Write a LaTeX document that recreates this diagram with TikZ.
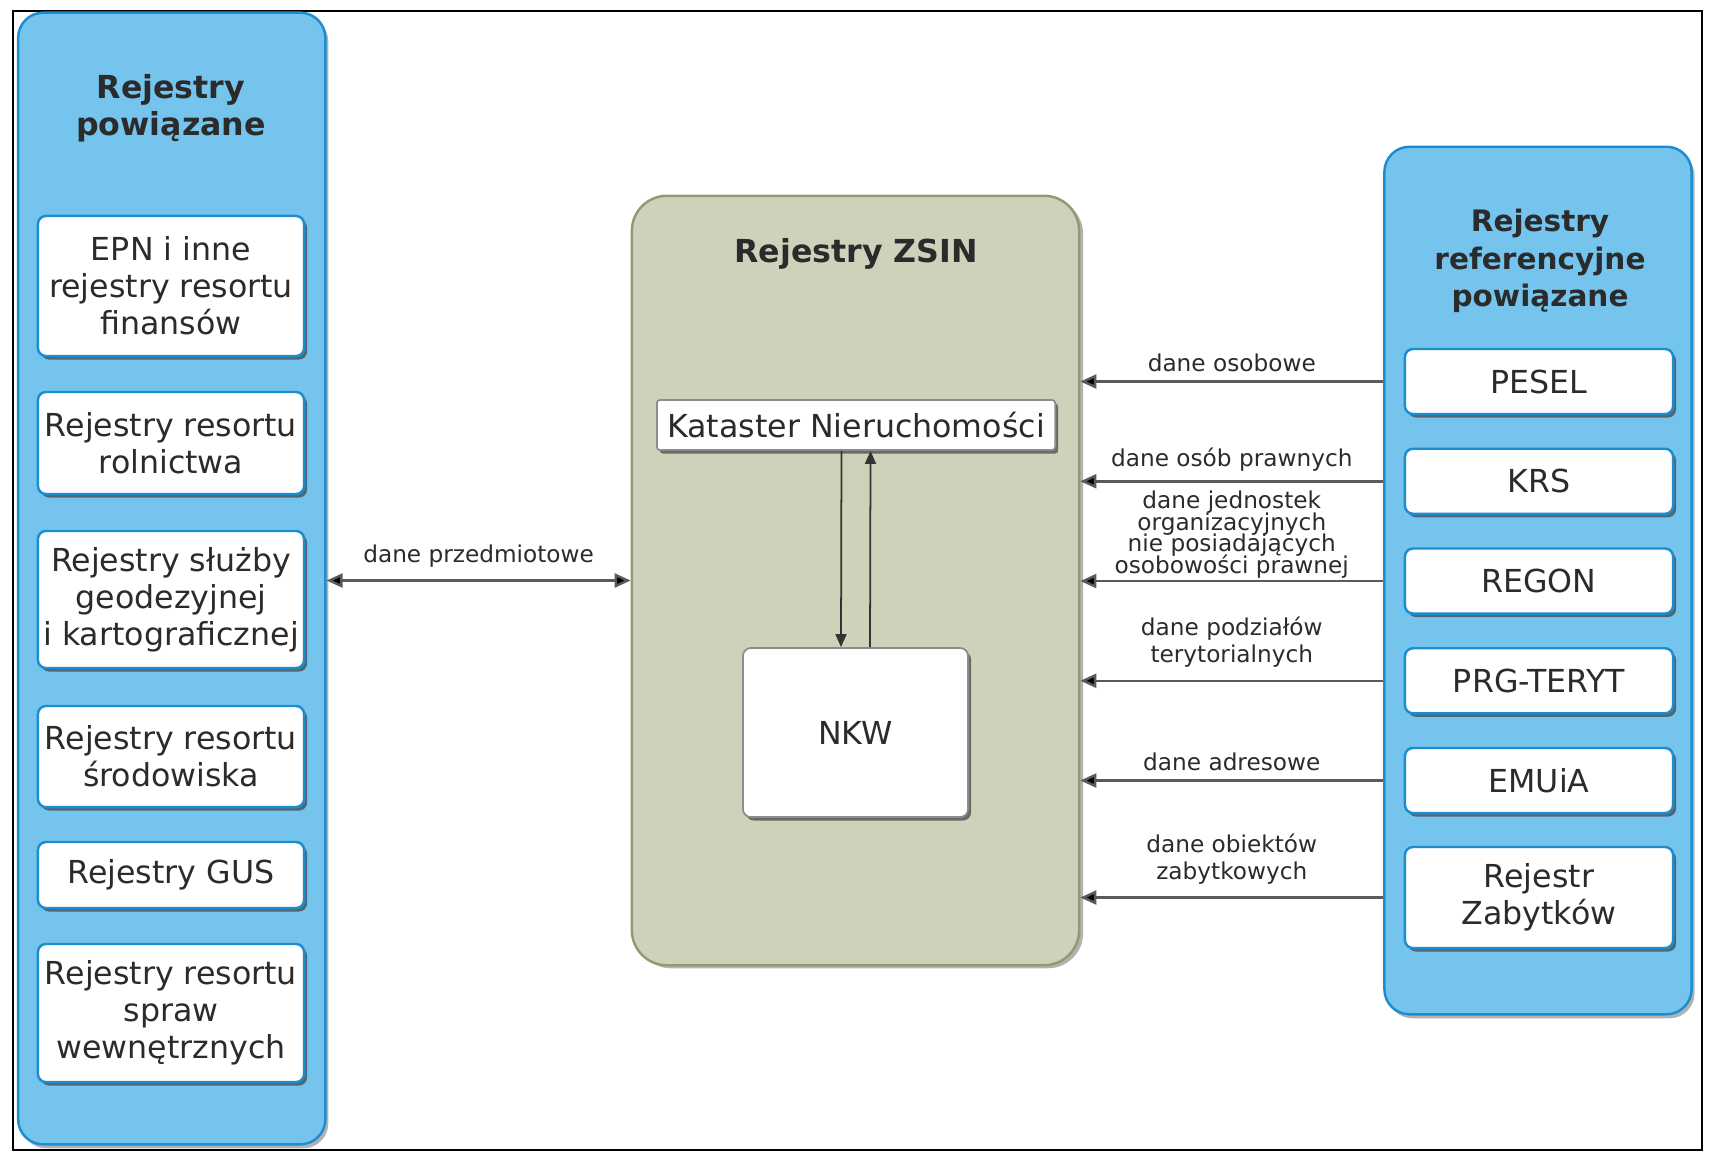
\documentclass[tikz,border=0pt]{standalone}
\usepackage{fontspec}
\setmainfont{DejaVu Sans}
\usetikzlibrary{arrows.meta,shadows}
\definecolor{niebieski}{HTML}{74C4EE}
\definecolor{ramka}{HTML}{1C8DD0}
\definecolor{oliwka}{HTML}{CFD2BB}
\definecolor{oliwkaR}{HTML}{8E9C72}
\definecolor{tekst}{HTML}{2B2B2B}
\definecolor{linia}{HTML}{5A5A5A}
\newcommand\ciasno{\fontsize{6.6}{6.1}\selectfont\lineskiplimit-5pt\relax}
\begin{document}
\begin{tikzpicture}[x=.01cm,y=-.01cm,
 font=\fontsize{9}{10.5}\selectfont,text=tekst,
 cien/.style={drop shadow={shadow xshift=.03cm,shadow yshift=-.035cm,fill=black!75,opacity=.7}},
 lpanel/.style={draw=ramka,line width=.7pt,fill=niebieski,rounded corners=.25cm,inner sep=0,
  minimum width=3.07cm,drop shadow={shadow xshift=.03cm,shadow yshift=-.04cm,fill=black,opacity=.3}},
 zpanel/.style={draw=oliwkaR,line width=.7pt,fill=oliwka,rounded corners=.35cm,inner sep=0,
  minimum width=4.47cm,minimum height=7.69cm,drop shadow={shadow xshift=.04cm,shadow yshift=-.03cm,fill=black,opacity=.3}},
 bbox/.style={draw=ramka,line width=.7pt,fill=white,rounded corners=.08cm,cien,
  inner sep=0,align=center,minimum width=2.66cm},
 rbox/.style={bbox,minimum width=2.68cm,minimum height=.65cm},
 sbox/.style={draw=black!45,line width=.5pt,fill=white,cien,inner sep=0,align=center},
 tytul/.style={font=\bfseries\fontsize{9}{10.5}\selectfont,align=center,inner sep=0},
 etyk/.style={font=\fontsize{6.6}{7.6}\selectfont,align=center,text=tekst,inner sep=1.5pt},
 grot/.tip={Triangle[length=.16cm,width=.14cm,fill=black]},
 strz/.style={draw=linia,line width=.7pt,-grot},
 strzm/.style={draw=black!80,line width=.5pt,-{Triangle[length=.13cm,width=.11cm]}}]
 \draw[line width=.8pt] (13,11) rectangle (1702,1150);
 \useasboundingbox (0,0) rectangle (1709,1153);
 \path
 (171.75,578.5) node[lpanel,minimum height=11.31cm] (lewy) {} % <<< panele
 (855.5,580.5) node[zpanel] (zsin) {}
 (1538,580.5) node[lpanel,minimum height=8.67cm] (prawy) {};
 \node[tytul] (tlewy) at (171,108) {Rejestry\\powiązane};
 \node[tytul] (tzsin) at (856,254) {Rejestry ZSIN};
 \node[tytul,font=\bfseries\fontsize{8.4}{10.6}\selectfont] (tprawy) at (1540,261)
  {Rejestry\\referencyjne\\powiązane};
 \path
 (171,286) node[bbox,minimum height=1.40cm] (epn) {EPN i inne\\rejestry resortu\\finansów} % <<< lewa kolumna
 (171,443) node[bbox,minimum height=1.02cm] (roln) {Rejestry resortu\\rolnictwa}
 (171,599.5) node[bbox,minimum height=1.37cm] (geod) {Rejestry służby\\geodezyjnej\\i kartograficznej}
 (171,756.5) node[bbox,minimum height=1.01cm] (srod) {Rejestry resortu\\środowiska}
 (171,875) node[bbox,minimum height=.66cm] (gus) {Rejestry GUS}
 (171,1013) node[bbox,minimum height=1.38cm] (msw) {Rejestry resortu\\spraw\\wewnętrznych};
 \path
 (1539,381.5) node[rbox] (pesel) {PESEL} % <<< prawa kolumna
 ++(0,99.75) node[rbox] (krs) {KRS}
 ++(0,99.75) node[rbox] (regon) {REGON}
 ++(0,99.75) node[rbox] (teryt) {PRG-TERYT}
 ++(0,99.75) node[rbox] (emuia) {EMUiA}
 ++(0,117) node[rbox,minimum height=1.01cm] (zabytki) {Rejestr\\Zabytków};
 \path
 (856,425) node[sbox,rounded corners=.03cm,minimum width=3.98cm,minimum height=.50cm] (kataster)
  {Kataster Nieruchomości} % <<< srodek
 (855.5,732.5) node[sbox,rounded corners=.08cm,minimum width=2.25cm,minimum height=1.69cm] (nkw) {NKW};
 \draw[strzm] ([xshift=-.145cm]kataster.south) -- ([xshift=-.145cm]nkw.north);
 \draw[strzm] ([xshift=.145cm]nkw.north) -- ([xshift=.145cm]kataster.south);
 \draw[strz,grot-grot] (lewy.east |- zsin.west) -- (zsin.west)
  node[etyk,midway,above=2pt] (eprzedm) {dane przedmiotowe};
 \draw[strz] (prawy.west |- pesel) -- (zsin.east |- pesel)
  node[etyk,midway,above=1pt] (eosob) {dane osobowe};
 \draw[strz] (prawy.west |- krs) -- (zsin.east |- krs)
  node[etyk,midway,above=1pt] (eprawne) {dane osób prawnych};
 \draw[strz] (prawy.west |- regon) -- (zsin.east |- regon)
  node[etyk,midway,above=-1pt,font=\ciasno] (ejedn)
  {dane jednostek\\organizacyjnych\\nie posiadających\\osobowości prawnej};
 \draw[strz] (prawy.west |- teryt) -- (zsin.east |- teryt)
  node[etyk,midway,above=2pt] (eteryt) {dane podziałów\\terytorialnych};
 \draw[strz] (prawy.west |- emuia) -- (zsin.east |- emuia)
  node[etyk,midway,above=1pt] (eadres) {dane adresowe};
 \draw[strz] (prawy.west |- zabytki) -- (zsin.east |- zabytki)
  node[etyk,midway,above=2pt] (ezab) {dane obiektów\\zabytkowych};
\end{tikzpicture}
\end{document}
